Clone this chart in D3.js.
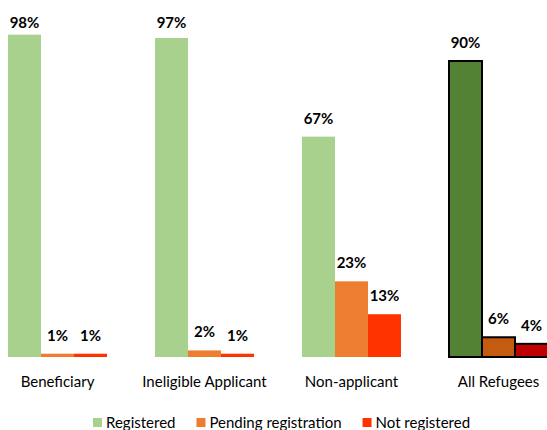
<!DOCTYPE html>
<html>
<head>
<meta charset="utf-8">
<script src="https://cdn.jsdelivr.net/npm/d3@7"></script>
<style>
  body { margin: 0; background: #fff; }
  text { font-family: Lato, "Open Sans", sans-serif; fill: #000; }
</style>
</head>
<body>
<div id="vis"></div>
<script>
// chart values
const categories = ["Beneficiary", "Ineligible Applicant", "Non-applicant", "All Refugees"];
const seriesNames = ["Registered", "Pending registration", "Not registered"];
const registered = [98, 97, 67, 90];
const pending = [1, 2, 23, 6];
const notRegistered = [1, 1, 13, 4];

const width = 547;
const height = 430;

// normal colours, and the darker ones used for the "All Refugees" group
const colours = ["#a9d18e", "#ed7d31", "#ff3300"];
const darkColours = ["#548235", "#c55a11", "#c00000"];

const svg = d3.select("#vis")
  .append("svg")
  .attr("width", width)
  .attr("height", height);

// one band per group, 147px step with 99px of bars in it
const x = d3.scaleBand()
  .domain(categories)
  .range([-16, 572])
  .paddingInner(48 / 147)
  .paddingOuter(24 / 147);

const xSub = d3.scaleBand()
  .domain(seriesNames)
  .range([0, x.bandwidth()]);

const y = d3.scaleLinear()
  .domain([0, 100])
  .range([357, 28.1]);

// build rows from the arrays
const rows = categories.map((c, i) => ({
  category: c,
  values: [registered[i], pending[i], notRegistered[i]]
}));

const groups = svg.selectAll(".group")
  .data(rows)
  .enter()
  .append("g")
  .attr("class", "group")
  .attr("transform", d => `translate(${x(d.category)},0)`);

const isLast = d => d.category === "All Refugees";

groups.selectAll("rect")
  .data(d => d.values.map((v, j) => ({ v, j, last: isLast(d) })))
  .enter()
  .append("rect")
  .attr("x", d => xSub(seriesNames[d.j]))
  .attr("y", d => y(d.v))
  .attr("width", xSub.bandwidth())
  .attr("height", d => y(0) - y(d.v))
  .attr("fill", d => d.last ? darkColours[d.j] : colours[d.j])
  .attr("stroke", d => d.last ? "#000" : "none")
  .attr("stroke-width", 2);

// value labels, pushed down when they would run off the top
groups.selectAll(".val")
  .data(d => d.values.map((v, j) => ({ v, j })))
  .enter()
  .append("text")
  .attr("class", "val")
  .attr("x", d => xSub(seriesNames[d.j]) + xSub.bandwidth() / 2)
  .attr("y", d => Math.max(28, y(d.v) - 13))
  .attr("text-anchor", "middle")
  .style("font-size", "15px")
  .style("font-weight", "bold")
  .text(d => d.v + "%");

// category labels
svg.selectAll(".cat")
  .data(categories)
  .enter()
  .append("text")
  .attr("class", "cat")
  .attr("x", d => x(d) + x.bandwidth() / 2)
  .attr("y", 387)
  .attr("text-anchor", "middle")
  .style("font-size", "15px")
  .text(d => d);

// legend along the bottom
const legend = svg.append("g");
let lx = 93;
seriesNames.forEach((name, i) => {
  legend.append("rect")
    .attr("x", lx)
    .attr("y", 418)
    .attr("width", 9)
    .attr("height", 9)
    .attr("fill", colours[i]);
  const t = legend.append("text")
    .attr("x", lx + 13)
    .attr("y", 428)
    .style("font-size", "15px")
    .text(name);
  lx += 13 + t.node().getComputedTextLength() + 21;
});
</script>
</body>
</html>
